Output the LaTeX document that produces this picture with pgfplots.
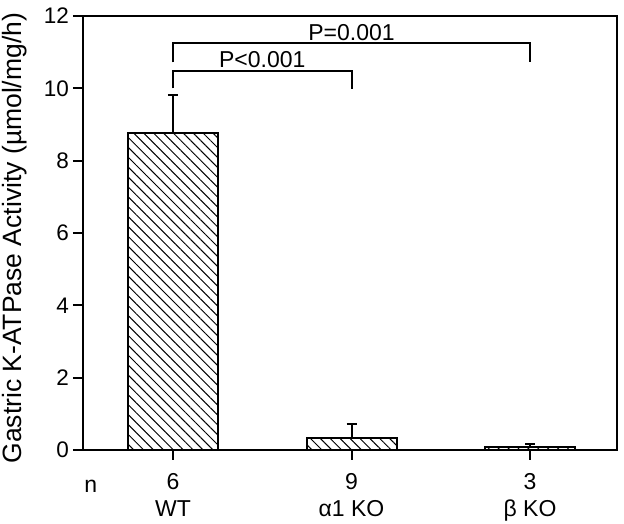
\documentclass[border=0pt]{standalone}
\usepackage{pgfplots}
\pgfplotsset{compat=1.18}
\usepackage{fontspec}
\setmainfont{Liberation Sans}
\usetikzlibrary{patterns.meta}
\begin{document}
\begin{tikzpicture}
\begin{axis}[
  scale only axis,
  width=534pt, height=434pt,
  xmin=-0.504, xmax=2.487,
  ymin=0, ymax=12,
  ytick={0,2,4,6,8,10,12},
  xtick={0,1,2},
  xticklabels={{6\\WT},{9\\α1 KO},{3\\β KO}},
  xticklabel style={align=center, inner sep=0pt, yshift=-13pt, font=\fontsize{23}{27}\selectfont},
  yticklabel style={inner sep=0pt, xshift=-4pt, font=\fontsize{22.5}{26}\selectfont},
  extra x ticks={-0.46},
  extra x tick labels={{\vphantom{6}n\\\vphantom{W}}},
  extra x tick style={major tick length=0pt, xticklabel style={align=center, inner sep=0pt, yshift=-13pt, font=\fontsize{23}{27}\selectfont}},
  tick align=outside,
  tick pos=left,
  major tick length=10pt,
  every tick/.style={black, line width=2pt},
  axis line style={line width=2pt},
  ylabel={Gastric K-ATPase Activity (\textmu mol/mg/h)},
  ylabel style={font=\fontsize{26.5}{30}\selectfont, inner sep=0pt, at={(axis description cs:-0.152,0.488)}, anchor=north},
  /pgf/number format/assume math mode=true,
]
\coordinate (sw) at (rel axis cs:0,0);
\coordinate (ne) at (rel axis cs:1,1);
\addplot[
  ybar, bar width=0.504, draw=black, line width=2pt,
  pattern={Lines[angle=-45, distance=7pt, line width=1pt]},
  error bars/.cd, y dir=plus, y explicit,
  error bar style={line width=2pt, black},
  error mark options={rotate=90, mark size=5pt, line width=2pt, black},
] coordinates {
  (0,8.77) +- (0,1.04)
  (1,0.32) +- (0,0.39)
  (2,0.08) +- (0,0.08)
};
\draw[line width=2pt] (axis cs:0,10.0) -- (axis cs:0,10.49) -- (axis cs:1,10.49) -- (axis cs:1,9.97);
\draw[line width=2pt] (axis cs:0,10.72) -- (axis cs:0,11.24) -- (axis cs:2,11.24) -- (axis cs:2,10.72);
\node[anchor=south, font=\fontsize{23}{26}\selectfont, inner sep=3pt] at (axis cs:0.5,10.49) {P<0.001};
\node[anchor=south, font=\fontsize{23}{26}\selectfont, inner sep=3pt] at (axis cs:1,11.24) {P=0.001};
\end{axis}
\pgfresetboundingbox
\path[use as bounding box] ([shift={(-83pt,-74pt)}]sw) rectangle ([shift={(7pt,16pt)}]ne);
\end{tikzpicture}
\end{document}
